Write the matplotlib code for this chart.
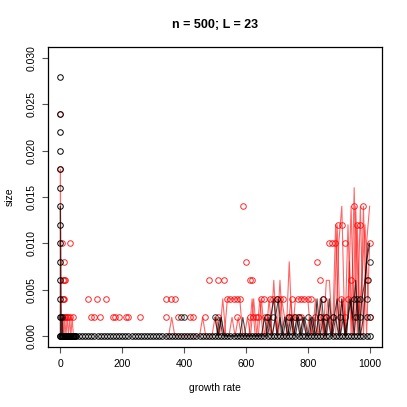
import numpy as np
import matplotlib
matplotlib.use("Agg")
import matplotlib.pyplot as plt

plt.rcParams['font.family'] = ['Liberation Sans', 'DejaVu Sans']

# sample size and number of runs
n = 500
L = 23

# red line runs (growth rate, count of cells)
red_a_x = [0, 0, 2, 4, 6, 8, 10, 12, 14, 18, 22, 26, 30, 34, 38, 42, 46]
red_a_c = [0, 9, 2, 0, 1, 0, 1, 0, 1, 0, 1, 0, 1, 0, 1, 0, 0]

red_b_x = np.arange(340, 1001, 10)
red_b_c = [0, 0, 1, 0, 0, 0, 0, 0, 0, 0, 0, 0, 1, 0, 0, 0, 1, 0, 1, 0,
           2, 2, 2, 2, 2, 0, 0, 0, 2, 0, 0, 2, 0, 1, 0, 3, 0, 3, 0, 0,
           4, 0, 2, 2, 2, 2, 2, 0, 1, 0, 2, 0, 3, 3, 0, 0, 5, 7, 0, 6,
           0, 8, 0, 7, 0, 5, 7]

red_c_x = np.arange(505, 1000, 10)
red_c_c = [1, 0, 2, 0, 0, 1, 0, 1, 0, 0, 1, 0, 2, 0, 2, 0, 0, 2, 0, 1,
           0, 2, 1, 0, 2, 0, 1, 0, 1, 0, 1, 0, 2, 0, 1, 0, 2, 0, 1, 6,
           0, 2, 0, 4, 0, 7, 1, 3, 6, 2]

red_d_x = np.arange(850, 1001, 10)
red_d_c = [0, 0, 1, 0, 6, 0, 2, 0, 1, 7, 0, 6, 0, 7, 0, 5]

# black line runs
blk_a_x = [0, 0, 2, 4, 6, 8, 10]
blk_a_c = [0, 7, 1, 0, 1, 0, 0]

blk_b_x = np.arange(500, 1001, 10)
blk_b_c = [1, 0, 1, 0, 0, 0, 0, 0, 0, 1, 0, 0, 0, 0, 0, 0, 1, 0, 1, 2,
           0, 1, 0, 1, 0, 1, 0, 1, 0, 1, 0, 1, 0, 2, 0, 1, 0, 2, 0, 1,
           0, 2, 0, 1, 2, 0, 2, 0, 1, 4, 5]

blk_c_x = np.arange(505, 1000, 10)
blk_c_c = [0, 1, 0, 0, 0, 0, 0, 0, 0, 0, 0, 0, 0, 0, 0, 0, 0, 1, 0, 1,
           2, 0, 1, 0, 1, 0, 1, 0, 1, 0, 0, 1, 0, 1, 2, 0, 1, 0, 1, 2,
           0, 1, 0, 2, 1, 3, 0, 2, 3, 5]

# red points
red_pt_x = [0, 0, 5, 30, 13, 10, 12, 15, 8, 10, 12, 16, 10, 14, 20, 25, 30, 40,
            89, 119, 148, 340, 359, 369,
            99, 108, 129, 169, 178, 188, 211, 220, 258, 340, 380, 419, 430, 469, 509,
            480, 509, 530,
            589, 949, 980,
            898, 910, 960, 970,
            869, 879, 888, 919, 1000,
            600, 830,
            612, 620, 840, 941, 990,
            538, 549, 560, 570, 581, 648, 659, 677, 688, 699, 710, 720, 749,
            768, 779, 789, 800, 810, 849, 909, 930,
            570, 612, 622, 632, 640, 661, 672, 735, 745, 756, 767, 778, 823,
            840, 850, 860, 880, 920, 950, 1000]
red_pt_c = [12, 9, 5, 5, 4, 3, 3, 3, 2, 2, 2, 1, 1, 1, 1, 1, 1, 1,
            2, 2, 2, 2, 2, 2,
            1, 1, 1, 1, 1, 1, 1, 1, 1, 1, 1, 1, 1, 1, 1,
            3, 3, 3,
            7, 7, 7,
            6, 6, 6, 6,
            5, 5, 5, 5, 5,
            4, 4,
            3, 3, 3, 3, 3,
            2, 2, 2, 2, 2, 2, 2, 2, 2, 2, 2, 2, 2,
            2, 2, 2, 2, 2, 2, 2, 2,
            1, 1, 1, 1, 1, 1, 1, 1, 1, 1, 1, 1, 1,
            1, 1, 1, 1, 1, 1, 1]

# black points
blk_col_c = [14, 12, 11, 10, 9, 8, 7, 6, 5, 4, 3, 2, 1, 0]
blk_zero_x = np.concatenate([np.arange(0, 50, 2), np.arange(50, 1001, 10)])
blk_pt_x = [2, 4, 390, 400, 500, 667, 688, 740, 760, 770, 800, 839, 860, 882,
            903, 955, 970, 990, 1000, 700, 850, 950, 960, 970, 990, 995, 1000]
blk_pt_c = [1, 1, 1, 1, 1, 1, 1, 1, 1, 1, 1, 1, 1, 1,
            1, 1, 1, 1, 1, 2, 2, 2, 2, 2, 2, 3, 4]

fig = plt.figure(figsize=(4.07, 4.07), dpi=100)
ax = fig.add_axes([0.118, 0.1474, 0.8206, 0.7371])

mk = dict(linestyle='none', marker='o', markerfacecolor='none', markersize=4.0, markeredgewidth=0.7)
lw = 0.8

for xs, cs in [(red_a_x, red_a_c), (red_b_x, red_b_c), (red_c_x, red_c_c), (red_d_x, red_d_c)]:
    ax.plot(xs, np.array(cs) / n, color='red', alpha=0.6, lw=lw)
ax.plot(red_pt_x, np.array(red_pt_c) / n, color='red', alpha=0.85, **mk)

for xs, cs in [(blk_a_x, blk_a_c), (blk_b_x, blk_b_c), (blk_c_x, blk_c_c)]:
    ax.plot(xs, np.array(cs) / n, color='black', alpha=0.7, lw=lw)
ax.plot(np.zeros(len(blk_col_c)), np.array(blk_col_c) / n, color='black', **mk)
ax.plot(blk_zero_x, np.zeros(len(blk_zero_x)), color='black', **mk)
ax.plot(blk_pt_x, np.array(blk_pt_c) / n, color='black', alpha=0.8, **mk)

ax.set_xlim(-40, 1040)
ax.set_ylim(-0.0012, 0.0312)
ax.set_xticks([0, 200, 400, 600, 800, 1000])
ax.set_yticks([0.000, 0.005, 0.010, 0.015, 0.020, 0.025, 0.030])
ax.set_yticklabels(['0.000', '0.005', '0.010', '0.015', '0.020', '0.025', '0.030'],
                   rotation=90, va='center')
ax.tick_params(length=4.5, width=0.8, labelsize=7.5, pad=4, color='#555555')
for s in ax.spines.values():
    s.set_linewidth(0.9)

ax.set_xlabel('growth rate', fontsize=7.5, labelpad=10)
ax.set_ylabel('size', fontsize=7.5, labelpad=8)
ax.set_title('n = %d; L = %d' % (n, L), fontsize=9, fontweight='bold', pad=14)

fig.savefig('out.png', dpi=100)
